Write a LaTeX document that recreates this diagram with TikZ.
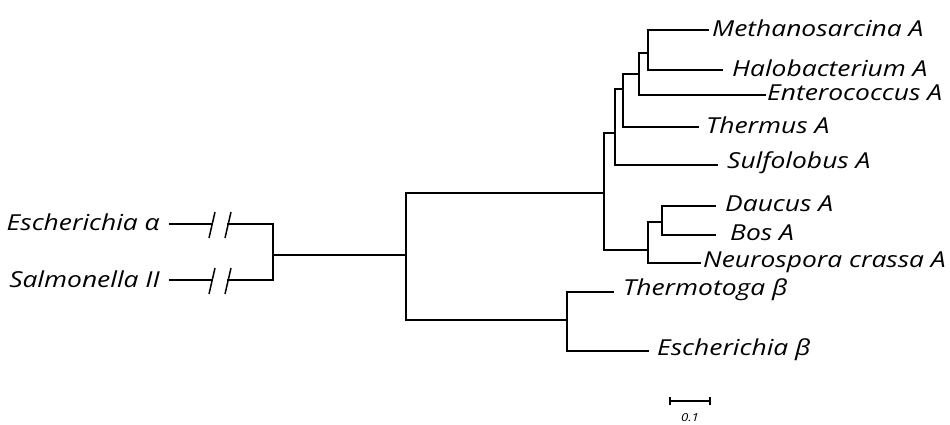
\documentclass[tikz,border=0pt]{standalone}
\usepackage{fontspec}
\setmainfont{Open Sans}[FakeStretch=1.2]
\begin{document}
\begin{tikzpicture}[x=1pt,y=-1pt,
  br/.style={line width=1.8pt,line cap=rect},
  lab/.style={font=\fontsize{22}{26}\selectfont\itshape,inner sep=0pt},
  brk/.style={line width=1.5pt},
  sbar/.style={line width=1.4pt}]
\useasboundingbox (0,0) rectangle (950,425);
% internal nodes
\coordinate (R) at (406,255);
\coordinate (L) at (273,255);
\coordinate (A) at (604,193);
\coordinate (B) at (615,133);
\coordinate (C) at (623,89);
\coordinate (D) at (639,74);
\coordinate (E) at (648,53);
\coordinate (F) at (648,250);
\coordinate (G) at (662,222);
\coordinate (H) at (567,320);
% leaf ends
\coordinate (lMe) at (708,30);
\coordinate (lHa) at (722,70);
\coordinate (lEn) at (765,95);
\coordinate (lTh) at (698,127);
\coordinate (lSu) at (717,165);
\coordinate (lDa) at (715,206);
\coordinate (lBo) at (715,235);
\coordinate (lNe) at (700,263);
\coordinate (lTt) at (613,292);
\coordinate (lEb) at (648,351);
\coordinate (lEa) at (228,224);
\coordinate (lEa1) at (212,224);
\coordinate (lEa0) at (170,224);
\coordinate (lSa) at (228,280);
\coordinate (lSa1) at (212,280);
\coordinate (lSa0) at (170,280);
% labels
\node[lab,anchor=west] (tMe) at (712,28) {Methanosarcina A};
\node[lab,anchor=west] (tHa) at (732,68) {Halobacterium A};
\node[lab,anchor=west] (tEn) at (767,93) {Enterococcus A};
\node[lab,anchor=west] (tTh) at (706,125) {Thermus A};
\node[lab,anchor=west] (tSu) at (727,163) {Sulfolobus A};
\node[lab,anchor=west] (tDa) at (725,204) {Daucus A};
\node[lab,anchor=west] (tBo) at (730,233) {Bos A};
\node[lab,anchor=west] (tNe) at (703,262) {Neurospora crassa A};
\node[lab,anchor=west] (tTt) at (623,290) {Thermotoga β};
\node[lab,anchor=west] (tEb) at (657,350) {Escherichia β};
\node[lab,anchor=east] (tEa) at (160,222) {Escherichia α};
\node[lab,anchor=east] (tSa) at (160,279) {Salmonella II};
% tree
\draw[br] (R) -- (L);
\draw[br] (R) |- (A);
\draw[br] (R) |- (H);
\draw[br] (A) |- (B);
\draw[br] (A) |- (F);
\draw[br] (B) |- (C);
\draw[br] (B) |- (lSu);
\draw[br] (C) |- (D);
\draw[br] (C) |- (lTh);
\draw[br] (D) |- (E);
\draw[br] (D) |- (lEn);
\draw[br] (E) |- (lMe);
\draw[br] (E) |- (lHa);
\draw[br] (F) |- (G);
\draw[br] (F) |- (lNe);
\draw[br] (G) |- (lDa);
\draw[br] (G) |- (lBo);
\draw[br] (H) |- (lTt);
\draw[br] (H) |- (lEb);
\draw[br] (L) |- (lEa);
\draw[br] (L) |- (lSa);
\draw[br] (lEa1) -- (lEa0);
\draw[br] (lSa1) -- (lSa0);
% break marks
\draw[brk] ([shift={(3,-12)}]lEa1) -- ++(-6,26);
\draw[brk] ([shift={(3,-12)}]lEa) -- ++(-6,26);
\draw[brk] ([shift={(3,-12)}]lSa1) -- ++(-6,26);
\draw[brk] ([shift={(3,-12)}]lSa) -- ++(-6,26);
% scale bar
\coordinate (s0) at (670,401);
\coordinate (s1) at (710,401);
\draw[sbar] (s0) -- (s1);
\draw[sbar] ([yshift=-4]s0) -- ([yshift=4]s0);
\draw[sbar] ([yshift=-4]s1) -- ([yshift=4]s1);
\node[font=\fontsize{11}{13}\selectfont\itshape,inner sep=0pt] (tsc) at (690,418) {0.1};
\end{tikzpicture}
\end{document}
